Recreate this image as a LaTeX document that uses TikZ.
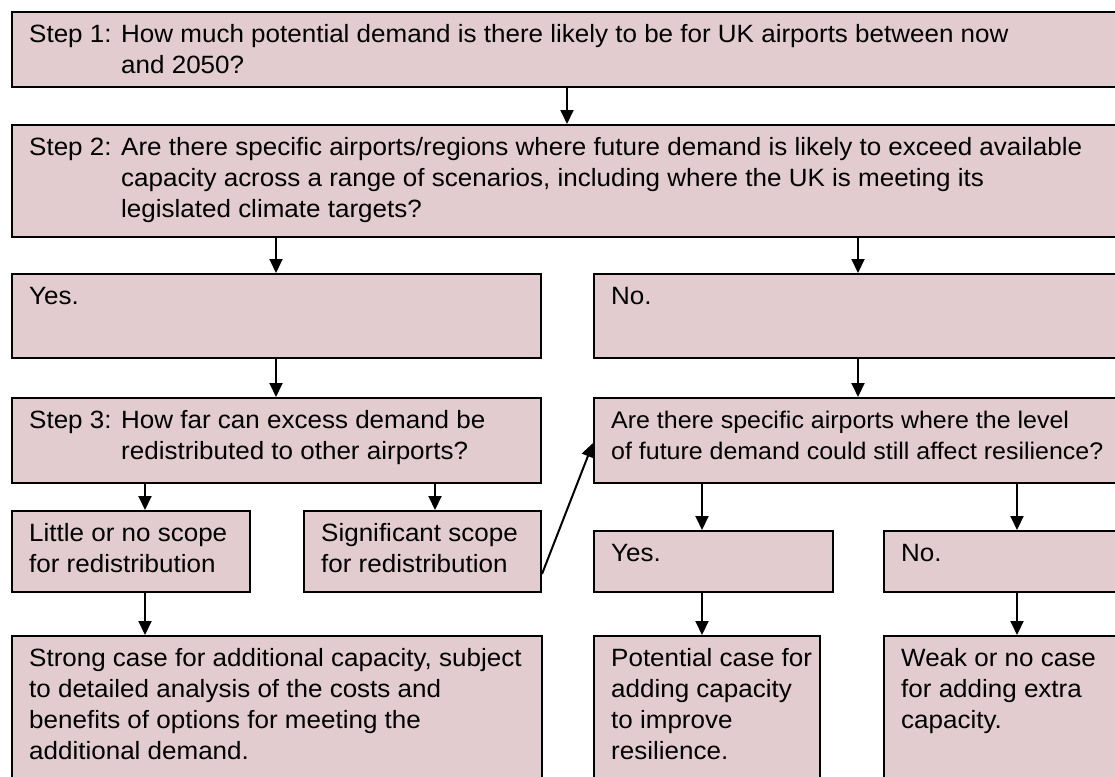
\documentclass[tikz,border=0pt]{standalone}
\usepackage{fontspec}
\setmainfont[FakeStretch=1.04]{Liberation Sans}
\usetikzlibrary{arrows.meta,calc}
\definecolor{boxfill}{RGB}{226,204,207}
\newcommand{\fl}{\rule{0pt}{22pt}}
\newcommand{\ind}[1]{\hspace*{\widthof{#1}}}
\usepackage{calc}
\begin{document}
\begin{tikzpicture}[x=1pt,y=-1pt,
  box/.style={draw=black,line width=2pt,fill=boxfill},
  txt/.style={anchor=north west,inner sep=0pt,align=left,font=\fontsize{25pt}{31pt}\selectfont},
  arr/.style={draw=black,line width=2pt,-{Triangle[width=13pt,length=14pt]}}]
\useasboundingbox (0,0) rectangle (1115,776);
\clip (0,0) rectangle (1115,776);
% boxes
\node[box,anchor=north west,minimum width=1119pt,minimum height=75pt,inner sep=0] (s1) at (11,11) {};
\node[box,anchor=north west,minimum width=1119pt,minimum height=112pt,inner sep=0] (s2) at (11,124) {};
\node[box,anchor=north west,minimum width=529pt,minimum height=84pt,inner sep=0] (yesA) at (11,273) {};
\node[box,anchor=north west,minimum width=537pt,minimum height=84pt,inner sep=0] (noA) at (593,273) {};
\node[box,anchor=north west,minimum width=529pt,minimum height=85pt,inner sep=0] (s3) at (11,397) {};
\node[box,anchor=north west,minimum width=537pt,minimum height=85pt,inner sep=0] (are) at (593,397) {};
\node[box,anchor=north west,minimum width=238pt,minimum height=81pt,inner sep=0] (little) at (11,510) {};
\node[box,anchor=north west,minimum width=237pt,minimum height=81pt,inner sep=0] (sig) at (303,510) {};
\node[box,anchor=north west,minimum width=239pt,minimum height=61pt,inner sep=0] (yesB) at (593,530) {};
\node[box,anchor=north west,minimum width=247pt,minimum height=61pt,inner sep=0] (noB) at (883,530) {};
\node[box,anchor=north west,minimum width=530pt,minimum height=165pt,inner sep=0] (strong) at (11,635) {};
\node[box,anchor=north west,minimum width=226pt,minimum height=165pt,inner sep=0] (pot) at (593,635) {};
\node[box,anchor=north west,minimum width=247pt,minimum height=165pt,inner sep=0] (weak) at (883,635) {};
% texts
\node[txt] (t1) at ($(s1.north west)+(18,9)$) {\fl Step 1: How much potential demand is there likely to be for UK airports between now\\\ind{Step 1: }and 2050?};
\node[txt] (t2) at ($(s2.north west)+(18,9)$) {\fl Step 2: Are there specific airports/regions where future demand is likely to exceed available\\\ind{Step 2: }capacity across a range of scenarios, including where the UK is meeting its\\\ind{Step 2: }legislated climate targets?};
\node[txt] (t3) at ($(yesA.north west)+(18,9)$) {\fl Yes.};
\node[txt] (t4) at ($(noA.north west)+(18,9)$) {\fl No.};
\node[txt] (t5) at ($(s3.north west)+(18,9)$) {\fl Step 3: How far can excess demand be\\\ind{Step 3: }redistributed to other airports?};
\node[txt,font=\fontsize{24pt}{31pt}\selectfont] (t6) at ($(are.north west)+(18,9)$) {\fl Are there specific airports where the level\\of future demand could still affect resilience?};
\node[txt] (t7) at ($(little.north west)+(18,9)$) {\fl Little or no scope\\for redistribution};
\node[txt] (t8) at ($(sig.north west)+(18,9)$) {\fl Significant scope\\for redistribution};
\node[txt] (t9) at ($(yesB.north west)+(18,9)$) {\fl Yes.};
\node[txt] (t10) at ($(noB.north west)+(18,9)$) {\fl No.};
\node[txt] (t11) at ($(strong.north west)+(18,9)$) {\fl Strong case for additional capacity, subject\\to detailed analysis of the costs and\\benefits of options for meeting the\\additional demand.};
\node[txt] (t12) at ($(pot.north west)+(18,9)$) {\fl Potential case for\\adding capacity\\to improve\\resilience.};
\node[txt] (t13) at ($(weak.north west)+(18,9)$) {\fl Weak or no case\\for adding extra\\capacity.};
% arrows
\draw[arr] (567,0 |- s1.south) -- (567,0 |- s2.north);
\draw[arr] (276,0 |- s2.south) -- (276,0 |- yesA.north);
\draw[arr] (858,0 |- s2.south) -- (858,0 |- noA.north);
\draw[arr] (276,0 |- yesA.south) -- (276,0 |- s3.north);
\draw[arr] (858,0 |- noA.south) -- (858,0 |- are.north);
\draw[arr] (145,0 |- s3.south) -- (145,0 |- little.north);
\draw[arr] (435,0 |- s3.south) -- (435,0 |- sig.north);
\draw[arr] (702,0 |- are.south) -- (702,0 |- yesB.north);
\draw[arr] (1017,0 |- are.south) -- (1017,0 |- noB.north);
\draw[arr] (145,0 |- little.south) -- (145,0 |- strong.north);
\draw[arr] (702,0 |- yesB.south) -- (702,0 |- pot.north);
\draw[arr] (1017,0 |- noB.south) -- (1017,0 |- weak.north);
\draw[arr] ($(sig.south east)+(0,-19)$) -- ($(are.south west)+(0,-41)$);
\end{tikzpicture}
\end{document}
